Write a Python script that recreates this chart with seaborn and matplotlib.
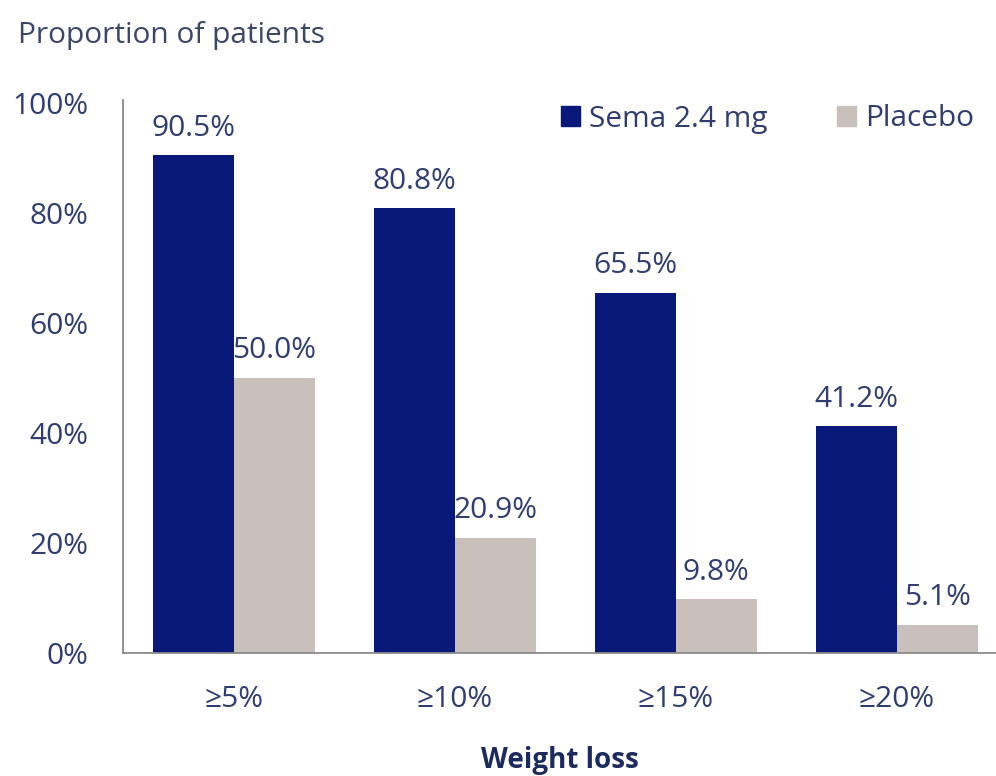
import matplotlib
matplotlib.use("Agg")
import matplotlib.pyplot as plt
import pandas as pd
import seaborn as sns

categories = ["≥5%", "≥10%", "≥15%", "≥20%"]
sema_values = [90.5, 80.8, 65.5, 41.2]
placebo_values = [50.0, 20.9, 9.8, 5.1]
series_names = ["Sema 2.4 mg", "Placebo"]
y_ticks = [0, 20, 40, 60, 80, 100]

NAVY = "#08197a"
GREY = "#c9c0bb"
TEXT = "#2f3d70"
FS = 21.5


def build_frame() -> pd.DataFrame:
    rows = []
    for cat, s, p in zip(categories, sema_values, placebo_values):
        rows.append({"cat": cat, "group": series_names[0], "value": s})
        rows.append({"cat": cat, "group": series_names[1], "value": p})
    return pd.DataFrame(rows)


def plot(df: pd.DataFrame) -> None:
    sns.set_style("white")
    plt.rcParams["font.family"] = ["Open Sans", "DejaVu Sans"]

    fig = plt.figure(figsize=(9.96, 7.76), dpi=100)
    ax = fig.add_axes([123 / 996, 1 - 653 / 776, 1 - 123 / 996, (653 - 100) / 776])

    sns.barplot(data=df, x="cat", y="value", hue="group", order=categories,
                hue_order=series_names, palette=[NAVY, GREY], width=0.733,
                saturation=1, linewidth=0, ax=ax, legend=False)

    for container in ax.containers:
        ax.bar_label(container, labels=[f"{v:.1f}%" for v in container.datavalues],
                     padding=9, fontsize=FS, color=TEXT)

    ax.set_xlim(-0.5, 3.45)
    ax.set_ylim(0, 100.5)
    ax.set_yticks(y_ticks)
    ax.set_yticklabels([f"{t}%" for t in y_ticks])
    ax.tick_params(axis="y", length=0, pad=25, labelsize=FS, labelcolor=TEXT)
    ax.tick_params(axis="x", length=0, pad=23, labelsize=FS, labelcolor=TEXT)

    ax.set_xlabel("Weight loss", fontsize=20, fontweight="bold", color="#1c2a5e", labelpad=23)
    ax.set_ylabel("")

    sns.despine(ax=ax)
    for side in ["left", "bottom"]:
        ax.spines[side].set_color("#8a8a8a")
        ax.spines[side].set_linewidth(1.3)

    fig.text(18 / 996, 1 - 35 / 776, "Proportion of patients", fontsize=FS,
             color="#3c4768", va="center", ha="left")

    handles = [plt.Rectangle((0, 0), 1, 1, color=NAVY), plt.Rectangle((0, 0), 1, 1, color=GREY)]
    fig.legend(handles, series_names, loc="center left",
               bbox_to_anchor=(561 / 996, 1 - 119 / 776), ncol=2, frameon=False,
               fontsize=FS, labelcolor=TEXT, handlelength=0.65, handleheight=0.65,
               handletextpad=0.3, columnspacing=2.3, borderpad=0, borderaxespad=0)

    fig.savefig("out.png", dpi=100)
    plt.close(fig)


def main() -> None:
    plot(build_frame())


if __name__ == "__main__":
    main()
